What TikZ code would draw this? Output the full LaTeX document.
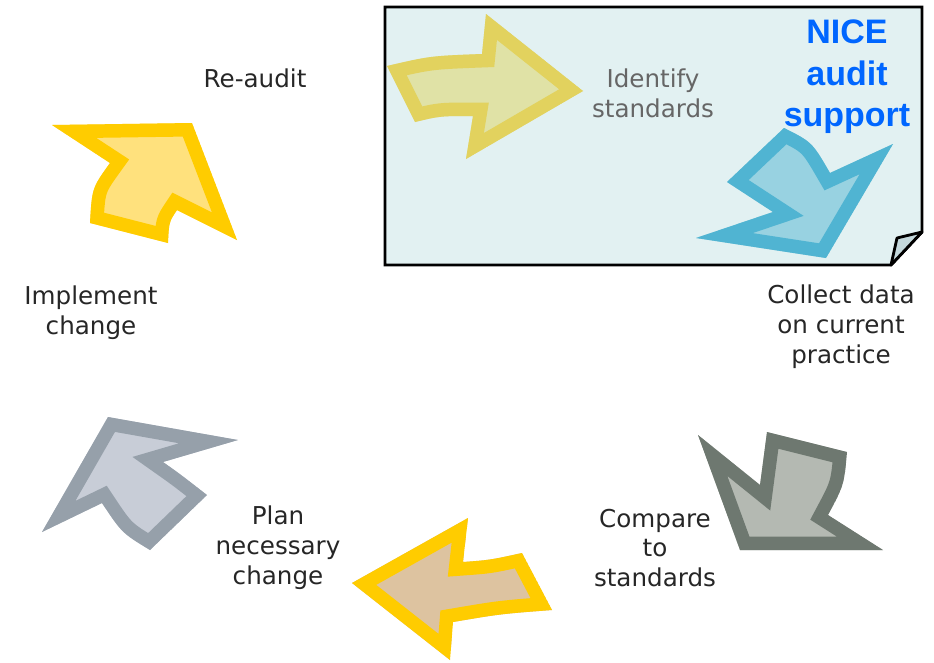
\documentclass[tikz,border=0pt]{standalone}
\usepackage{fontspec}
\setmainfont{DejaVu Sans}
\newfontfamily\nicefont{Liberation Sans}

\definecolor{frameblue}{RGB}{226,241,242}
\definecolor{foldblue}{RGB}{196,216,220}
\definecolor{idline}{RGB}{226,210,94}
\definecolor{idfill}{RGB}{224,226,166}
\definecolor{colline}{RGB}{80,180,210}
\definecolor{colfill}{RGB}{152,210,225}
\definecolor{cmpline}{RGB}{110,120,112}
\definecolor{cmpfill}{RGB}{180,185,178}
\definecolor{plnline}{RGB}{255,204,0}
\definecolor{plnfill}{RGB}{221,195,160}
\definecolor{impline}{RGB}{150,160,170}
\definecolor{impfill}{RGB}{200,205,215}
\definecolor{realine}{RGB}{255,204,0}
\definecolor{reafill}{RGB}{255,225,125}
\definecolor{niceblue}{RGB}{0,102,255}

% thick arrow: border kept inside the outline
\newcommand{\auditarrow}[3]{%
  \begin{scope}
    \clip #3;
    \draw[line width=23pt, line join=miter, draw=#1, fill=#2] #3;
  \end{scope}}

\tikzset{
  steplabel/.style={align=center, text=black!85, font=\fontsize{21}{25.5}\selectfont},
  nicelabel/.style={align=center, text=niceblue, font=\nicefont\bfseries\fontsize{29}{35.5}\selectfont}
}

\begin{document}
\begin{tikzpicture}[x=0.03cm, y=-0.03cm]

\useasboundingbox (0,0) rectangle (934,662);

% NICE support sheet with folded corner
\draw[line width=2.4pt, fill=frameblue] (385,7) -- (922,7) -- (922,232) -- (891,265) -- (385,265) -- cycle;
\draw[line width=2.4pt, line join=round, fill=foldblue] (922,232) -- (897,238) -- (891,265) -- cycle;

% Identify standards
\auditarrow{idline}{idfill}{(387,66) .. controls (430,56) .. (482,54) -- (486,14) -- (583,91) -- (466,159) -- (473,116) .. controls (440,116) .. (415,122) -- cycle}

% Collect data
\auditarrow{colline}{colfill}{(784,128) .. controls (812,142) .. (830,173) -- (893,144) -- (826,258) -- (696,238) -- (773,212) -- (727,182) -- cycle}

% Compare to standards
\auditarrow{cmpline}{cmpfill}{(698,435) -- (760,485) -- (767,432) -- (847,452) .. controls (844,485) .. (828,515) -- (883,550) -- (740,550) -- cycle}

% Plan necessary change
\auditarrow{plnline}{plnfill}{(352,583) -- (468,518) -- (463,562) .. controls (490,560) .. (522,553) -- (552,610) .. controls (500,614) .. (453,622) -- (450,660) -- cycle}

% Implement change
\auditarrow{impline}{impfill}{(42,532) -- (108,417) -- (238,440) -- (163,462) .. controls (180,474) .. (207,495) -- (150,550) .. controls (122,533) .. (102,503) -- cycle}

% Re-audit
\auditarrow{realine}{reafill}{(52,125) -- (192,123) -- (237,240) -- (177,210) .. controls (169,222) .. (168,243) -- (90,223) .. controls (92,188) .. (110,163) -- cycle}

% Labels
\node[steplabel] (reaudit) at (255,78) {Re-audit};
\node[steplabel, text=black!60] (identify) at (653,93) {Identify\\standards};
\node[steplabel] (collect) at (841,327) {Collect data\\on current\\practice};
\node[steplabel] (compare) at (655,548) {Compare\\to\\standards};
\node[steplabel] (plan) at (278,548) {Plan\\necessary\\change};
\node[steplabel] (implement) at (91,313) {Implement\\change};
\node[nicelabel] (nice) at (847,77) {NICE\\audit\\support};

\end{tikzpicture}
\end{document}
